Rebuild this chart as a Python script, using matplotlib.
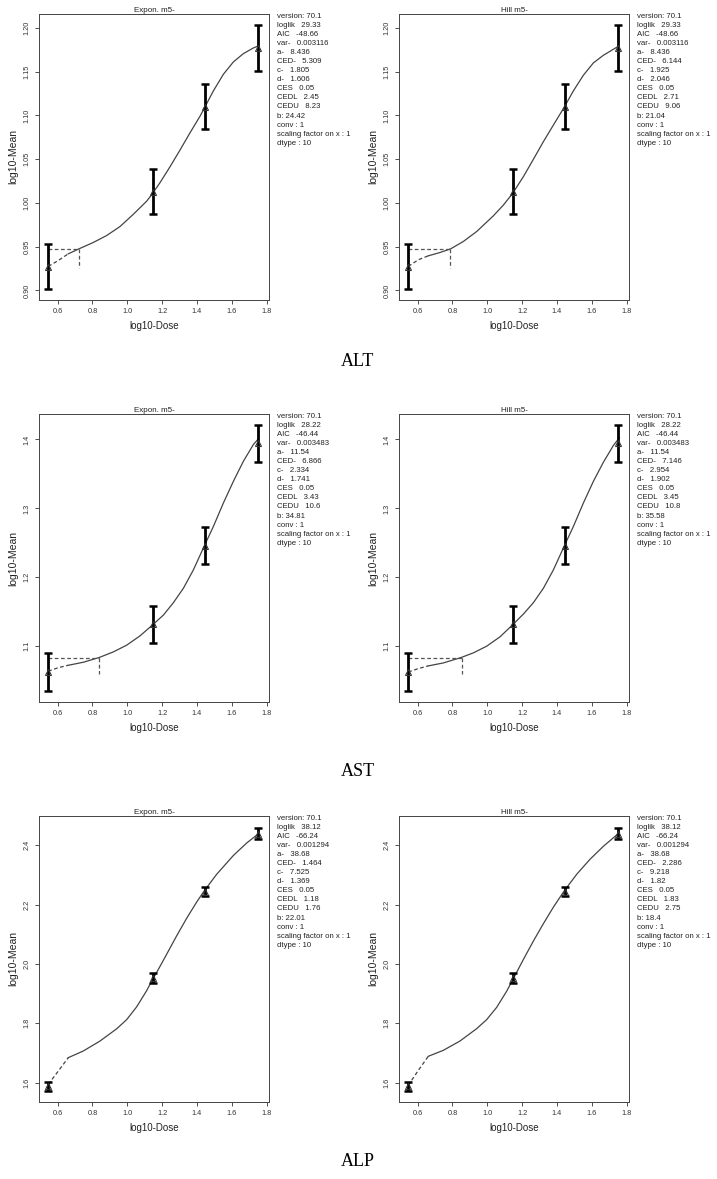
import matplotlib
matplotlib.use('Agg')
import matplotlib.pyplot as plt

W, H = 717, 1179

# dose positions (log10) of the four groups
dose_x = [0.544, 1.146, 1.447, 1.748]

# group means (log10) and half-length of the error bars
alt_mean = [0.927, 1.013, 1.110, 1.177]
alt_err = [0.0255, 0.0255, 0.0255, 0.026]
ast_mean = [1.0626, 1.1316, 1.2456, 1.3942]
ast_err = [0.027, 0.027, 0.027, 0.027]
alp_mean = [1.5876, 1.954, 2.243, 2.439]
alp_err = [0.014, 0.017, 0.016, 0.017]

# fitted curves: dashed link from control, then solid fit
alt_exp_dash_x = [0.546, 0.604, 0.661]
alt_exp_dash_y = [0.9274, 0.9342, 0.9418]
alt_exp_x = [0.661, 0.7225, 0.8048, 0.8813, 0.9579, 1.0344, 1.1110, 1.1455, 1.1876, 1.2450,
             1.3024, 1.3598, 1.4172, 1.4459, 1.4938, 1.5512, 1.6086, 1.6660, 1.7234, 1.7522]
alt_exp_y = [0.9418, 0.9475, 0.9548, 0.9627, 0.9730, 0.9870, 1.0020, 1.0110, 1.0232, 1.0414,
             1.0605, 1.0802, 1.0992, 1.1099, 1.1281, 1.1471, 1.1612, 1.1707, 1.1772, 1.1795]

alt_hill_dash_x = [0.546, 0.604, 0.661]
alt_hill_dash_y = [0.9274, 0.9350, 0.9395]
alt_hill_x = [0.661, 0.7282, 0.7895, 0.8622, 0.9388, 1.0344, 1.0919, 1.1455, 1.2067, 1.2641,
              1.3215, 1.3790, 1.4402, 1.4938, 1.5512, 1.6086, 1.6660, 1.7234, 1.7522]
alt_hill_y = [0.9395, 0.9433, 0.9475, 0.9559, 0.9673, 0.9852, 0.9975, 1.0110, 1.0300, 1.0498,
              1.0700, 1.0890, 1.1091, 1.1281, 1.1460, 1.1601, 1.1688, 1.1757, 1.1791]

ast_exp_dash_x = [0.546, 0.604, 0.661]
ast_exp_dash_y = [1.0636, 1.0689, 1.0723]
ast_exp_x = [0.661, 0.7474, 0.8373, 0.9196, 0.9962, 1.0727, 1.1435, 1.2067, 1.2641, 1.3215,
             1.3790, 1.4402, 1.4938, 1.5512, 1.6086, 1.6660, 1.7234, 1.7522]
ast_exp_y = [1.0723, 1.0767, 1.0835, 1.0917, 1.1015, 1.1150, 1.1306, 1.1451, 1.1631, 1.1840,
             1.2107, 1.2447, 1.2738, 1.3078, 1.3393, 1.3684, 1.3927, 1.4010]

ast_hill_dash_x = [0.546, 0.604, 0.661]
ast_hill_dash_y = [1.0626, 1.0675, 1.0714]
ast_hill_x = [0.661, 0.7474, 0.8488, 0.9196, 0.9962, 1.0727, 1.1435, 1.2067, 1.2641, 1.3215,
              1.3790, 1.4402, 1.4938, 1.5512, 1.6086, 1.6660, 1.7234, 1.7579]
ast_hill_y = [1.0714, 1.0757, 1.0835, 1.0903, 1.1000, 1.1136, 1.1306, 1.1466, 1.1631, 1.1840,
              1.2107, 1.2447, 1.2738, 1.3078, 1.3393, 1.3670, 1.3913, 1.4024]

alp_exp_dash_x = [0.546, 0.604, 0.661]
alp_exp_dash_y = [1.5944, 1.6393, 1.6843]
alp_exp_x = [0.661, 0.7474, 0.8431, 0.9388, 0.9962, 1.0536, 1.1110, 1.1435, 1.1684, 1.2258,
             1.2833, 1.3407, 1.3981, 1.4421, 1.5129, 1.6086, 1.6852, 1.7388, 1.7522]
alp_exp_y = [1.6843, 1.7068, 1.7403, 1.7815, 1.8124, 1.8555, 1.9100, 1.9464, 1.9713, 2.0327,
             2.0948, 2.1539, 2.2084, 2.2467, 2.3019, 2.3651, 2.4072, 2.4319, 2.4375]

alp_hill_dash_x = [0.546, 0.604, 0.661]
alp_hill_dash_y = [1.5910, 1.6416, 1.6888]
alp_hill_x = [0.661, 0.7474, 0.8431, 0.9388, 0.9962, 1.0536, 1.1110, 1.1435, 1.2067, 1.2641,
              1.3215, 1.3790, 1.4421, 1.5129, 1.5895, 1.6660, 1.7388, 1.7579]
alp_hill_y = [1.6888, 1.7090, 1.7404, 1.7820, 1.8124, 1.8537, 1.9082, 1.9440, 2.0148, 2.0768,
              2.1353, 2.1911, 2.2466, 2.3018, 2.3524, 2.3960, 2.4324, 2.4412]

# CED reference lines (x of CED, level of CES, lower end of vertical)
alt_exp_ced = [0.725, 0.9475, 0.926]
alt_hill_ced = [0.788, 0.9475, 0.926]
ast_exp_ced = [0.837, 1.0835, 1.060]
ast_hill_ced = [0.854, 1.0835, 1.060]

# text blocks
alt_exp_info = ["version: 70.1", "loglik   29.33", "AIC   -48.66", "var-   0.003116", "a-   8.436",
                "CED-   5.309", "c-   1.805", "d-   1.606", "CES   0.05", "CEDL   2.45",
                "CEDU   8.23", "b: 24.42", "conv : 1", "scaling factor on x : 1", "dtype : 10"]
alt_hill_info = ["version: 70.1", "loglik   29.33", "AIC   -48.66", "var-   0.003116", "a-   8.436",
                 "CED-   6.144", "c-   1.925", "d-   2.046", "CES   0.05", "CEDL   2.71",
                 "CEDU   9.06", "b: 21.04", "conv : 1", "scaling factor on x : 1", "dtype : 10"]
ast_exp_info = ["version: 70.1", "loglik   28.22", "AIC   -46.44", "var-   0.003483", "a-   11.54",
                "CED-   6.866", "c-   2.334", "d-   1.741", "CES   0.05", "CEDL   3.43",
                "CEDU   10.6", "b: 34.81", "conv : 1", "scaling factor on x : 1", "dtype : 10"]
ast_hill_info = ["version: 70.1", "loglik   28.22", "AIC   -46.44", "var-   0.003483", "a-   11.54",
                 "CED-   7.146", "c-   2.954", "d-   1.902", "CES   0.05", "CEDL   3.45",
                 "CEDU   10.8", "b: 35.58", "conv : 1", "scaling factor on x : 1", "dtype : 10"]
alp_exp_info = ["version: 70.1", "loglik   38.12", "AIC   -66.24", "var-   0.001294", "a-   38.68",
                "CED-   1.464", "c-   7.525", "d-   1.369", "CES   0.05", "CEDL   1.18",
                "CEDU   1.76", "b: 22.01", "conv : 1", "scaling factor on x : 1", "dtype : 10"]
alp_hill_info = ["version: 70.1", "loglik   38.12", "AIC   -66.24", "var-   0.001294", "a-   38.68",
                 "CED-   2.286", "c-   9.218", "d-   1.82", "CES   0.05", "CEDL   1.83",
                 "CEDU   2.75", "b: 18.4", "conv : 1", "scaling factor on x : 1", "dtype : 10"]

x_ticks = [0.6, 0.8, 1.0, 1.2, 1.4, 1.6, 1.8]
alt_yticks = [0.90, 0.95, 1.00, 1.05, 1.10, 1.15, 1.20]
ast_yticks = [1.1, 1.2, 1.3, 1.4]
alp_yticks = [1.6, 1.8, 2.0, 2.2, 2.4]

rows = [
    dict(name='ALT', mean=alt_mean, err=alt_err, ylim=(0.889, 1.216), yticks=alt_yticks, fmt='%.2f',
         panels=[('Expon. m5-', alt_exp_dash_x, alt_exp_dash_y, alt_exp_x, alt_exp_y, alt_exp_ced, alt_exp_info),
                 ('Hill m5-', alt_hill_dash_x, alt_hill_dash_y, alt_hill_x, alt_hill_y, alt_hill_ced, alt_hill_info)]),
    dict(name='AST', mean=ast_mean, err=ast_err, ylim=(1.019, 1.437), yticks=ast_yticks, fmt='%.1f',
         panels=[('Expon. m5-', ast_exp_dash_x, ast_exp_dash_y, ast_exp_x, ast_exp_y, ast_exp_ced, ast_exp_info),
                 ('Hill m5-', ast_hill_dash_x, ast_hill_dash_y, ast_hill_x, ast_hill_y, ast_hill_ced, ast_hill_info)]),
    dict(name='ALP', mean=alp_mean, err=alp_err, ylim=(1.535, 2.498), yticks=alp_yticks, fmt='%.1f',
         panels=[('Expon. m5-', alp_exp_dash_x, alp_exp_dash_y, alp_exp_x, alp_exp_y, None, alp_exp_info),
                 ('Hill m5-', alp_hill_dash_x, alp_hill_dash_y, alp_hill_x, alp_hill_y, None, alp_hill_info)]),
]

row_tops = [14, 414, 816]
row_bottoms = [300, 702, 1102]
row_label_y = [362, 772, 1162]
col_lefts = [39, 399]
col_rights = [269, 629]

plt.rcParams['font.family'] = ['Liberation Sans', 'DejaVu Sans']

fig = plt.figure(figsize=(W / 100, H / 100), dpi=100)

for r, row in enumerate(rows):
    top, bottom = row_tops[r], row_bottoms[r]
    for c, (title, dx, dy, cx, cy, ced, info) in enumerate(row['panels']):
        left, right = col_lefts[c], col_rights[c]
        ax = fig.add_axes([left / W, 1 - bottom / H, (right - left) / W, (bottom - top) / H])

        ax.plot(dx, dy, color='#444444', lw=0.9, ls=(0, (3, 2)))
        ax.plot(cx, cy, color='#444444', lw=0.9)
        if ced is not None:
            ax.plot([dose_x[0], ced[0]], [ced[1], ced[1]], color='#555555', lw=0.9, ls=(0, (3, 2)))
            ax.plot([ced[0], ced[0]], [ced[1], ced[2]], color='#555555', lw=0.9, ls=(0, (3, 2)))

        ax.errorbar(dose_x, row['mean'], yerr=row['err'], fmt='none', ecolor='black',
                    elinewidth=2.0, capsize=2.8, capthick=1.8)
        ax.plot(dose_x, row['mean'], ls='none', marker='^', ms=5, mfc='none', mec='#333333', mew=0.8)

        ax.set_xlim(0.493, 1.813)
        ax.set_ylim(*row['ylim'])
        ax.set_xticks(x_ticks)
        ax.set_xticklabels(['%.1f' % t for t in x_ticks])
        ax.set_yticks(row['yticks'])
        ax.set_yticklabels([row['fmt'] % t for t in row['yticks']], rotation=90, va='center')
        ax.tick_params(labelsize=5.3, length=3, width=0.6, colors='#333333', pad=3)
        for s in ax.spines.values():
            s.set_linewidth(0.7)
            s.set_color('#444444')

        ax.set_title(title, fontsize=5.8, pad=1.5, color='#222222')
        ax.set_xlabel('log10-Dose', fontsize=7, labelpad=4, color='#222222')
        ax.set_ylabel('log10-Mean', fontsize=7.5, labelpad=4, color='#222222')

        tx = right + 8
        for i, line in enumerate(info):
            fig.text(tx / W, 1 - (top + 2 + i * 9.1) / H, line, fontsize=5.6,
                     va='center', ha='left', color='#222222')

    fig.text(358 / W, 1 - row_label_y[r] / H, row['name'], fontsize=13,
             family='Liberation Serif', ha='center', va='center')

fig.savefig('out.png', dpi=100)
